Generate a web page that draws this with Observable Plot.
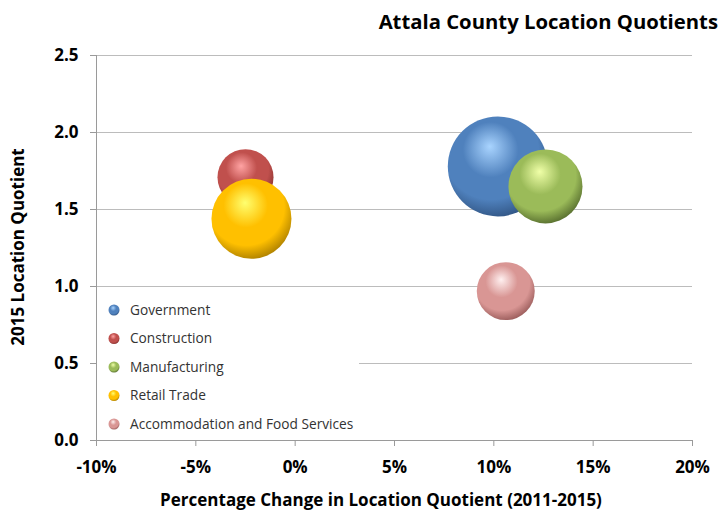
<!DOCTYPE html>
<html>
<head>
<meta charset="utf-8">
<script src="https://cdn.jsdelivr.net/npm/d3@7"></script>
<script src="https://cdn.jsdelivr.net/npm/@observablehq/plot@0.6"></script>
<style>
  html, body { margin: 0; padding: 0; background: #fff; }
  #wrap { position: relative; width: 721px; height: 510px; overflow: hidden; font-family: "Open Sans", sans-serif; }
  #title { position: absolute; right: 3px; top: 6px; font-weight: bold; font-size: 20.3px; color: #000; white-space: nowrap; line-height: 30px; }
  #xlabel { position: absolute; left: 381px; top: 500px; transform: translate(-50%, -50%); font-weight: bold; font-size: 17px; white-space: nowrap; color: #000; line-height: 20px; }
  #ylabel { position: absolute; left: 18px; top: 247px; transform: translate(-50%, -50%) rotate(-90deg); font-weight: bold; font-size: 17px; white-space: nowrap; color: #000; line-height: 20px; }
  #legend { position: absolute; left: 97px; top: 293px; width: 262px; height: 146px; background: #fff; }
  #legend svg { display: block; }
</style>
</head>
<body>
<div id="wrap">
  <div id="chart"></div>
  <div id="title">Attala County Location Quotients</div>
  <div id="xlabel">Percentage Change in Location Quotient (2011-2015)</div>
  <div id="ylabel">2015 Location Quotient</div>
  <div id="legend"></div>
</div>
<script>
const sectors = ["Government", "Construction", "Manufacturing", "Retail Trade", "Accommodation and Food Services"];
const pctChange = [10.2, -2.5, 12.6, -2.2, 10.6];
const lq2015 = [1.78, 1.71, 1.65, 1.44, 0.97];
const bubbleSize = [1000, 314, 548, 640, 336];
const xTicks = [-10, -5, 0, 5, 10, 15, 20];
const yTicks = [0, 0.5, 1.0, 1.5, 2.0, 2.5];

const palette = [
  {id: "gGov", hi: "#a9d4ff", base: "#4f81bd", dark: "#2f5280"},
  {id: "gCon", hi: "#ffa3a3", base: "#c0504d", dark: "#842f2d"},
  {id: "gMan", hi: "#f0ffa8", base: "#9bbb59", dark: "#50662a"},
  {id: "gRet", hi: "#ffff70", base: "#ffc000", dark: "#a67a00"},
  {id: "gAcc", hi: "#fff0f0", base: "#d99694", dark: "#945655"}
];

const data = sectors.map((s, i) => ({sector: s, x: pctChange[i], y: lq2015[i], size: bubbleSize[i]}));

const svg = Plot.plot({
  width: 721,
  height: 510,
  marginLeft: 96,
  marginRight: 29,
  marginTop: 55,
  marginBottom: 70,
  style: {fontFamily: "Open Sans, sans-serif", fontSize: "17px", fontWeight: "bold", color: "#000", background: "#fff"},
  x: {domain: [-10, 20], ticks: xTicks, tickFormat: d => d + "%"},
  y: {domain: [0, 2.5], ticks: yTicks, tickFormat: d => d.toFixed(1)},
  r: {type: "sqrt", domain: [0, 1000], range: [0, 50]},
  color: {type: "ordinal", domain: sectors, range: palette.map(p => `url(#${p.id})`)},
  marks: [
    Plot.gridY(yTicks, {stroke: "#bcbcbc", strokeOpacity: 1}),
    Plot.ruleX([-10], {stroke: "#9a9a9a"}),
    Plot.ruleY([0], {stroke: "#9a9a9a"}),
    Plot.axisY(yTicks, {tickSize: 6, tickPadding: 12, stroke: "#9a9a9a", fill: "#000", fontSize: 17, fontWeight: "bold",
      label: null, tickFormat: d => d.toFixed(1)}),
    Plot.axisX(xTicks, {tickSize: 6, tickPadding: 14, stroke: "#9a9a9a", fill: "#000", fontSize: 17, fontWeight: "bold",
      label: null, tickFormat: d => d + "%"}),
    Plot.dot(data, {x: "x", y: "y", r: "size", fill: "sector", sort: null, stroke: "none"})
  ]
});

const defs = d3.select(svg).insert("defs", ":first-child");
palette.forEach(p => {
  const g = defs.append("radialGradient").attr("id", p.id)
    .attr("cx", "44%").attr("cy", "38%").attr("r", "66%").attr("fx", "42%").attr("fy", "30%");
  g.append("stop").attr("offset", "0%").attr("stop-color", p.hi);
  g.append("stop").attr("offset", "42%").attr("stop-color", p.base);
  g.append("stop").attr("offset", "72%").attr("stop-color", p.base);
  g.append("stop").attr("offset", "100%").attr("stop-color", p.dark);
});
document.getElementById("chart").appendChild(svg);

// legend
const lg = d3.select("#legend").append("svg").attr("width", 262).attr("height", 146)
  .style("font-family", "Open Sans, sans-serif").style("font-size", "13.7px");
const rowY = d3.scalePoint().domain(sectors).range([17, 131]);
const items = lg.selectAll("g").data(sectors).join("g").attr("transform", d => `translate(0,${rowY(d)})`);
items.append("circle").attr("cx", 17).attr("cy", 0).attr("r", 5.5).attr("fill", (d, i) => `url(#${palette[i].id})`);
items.append("text").attr("x", 33).attr("y", 0).attr("dy", "0.35em").attr("fill", "#333").text(d => d);
</script>
</body>
</html>
